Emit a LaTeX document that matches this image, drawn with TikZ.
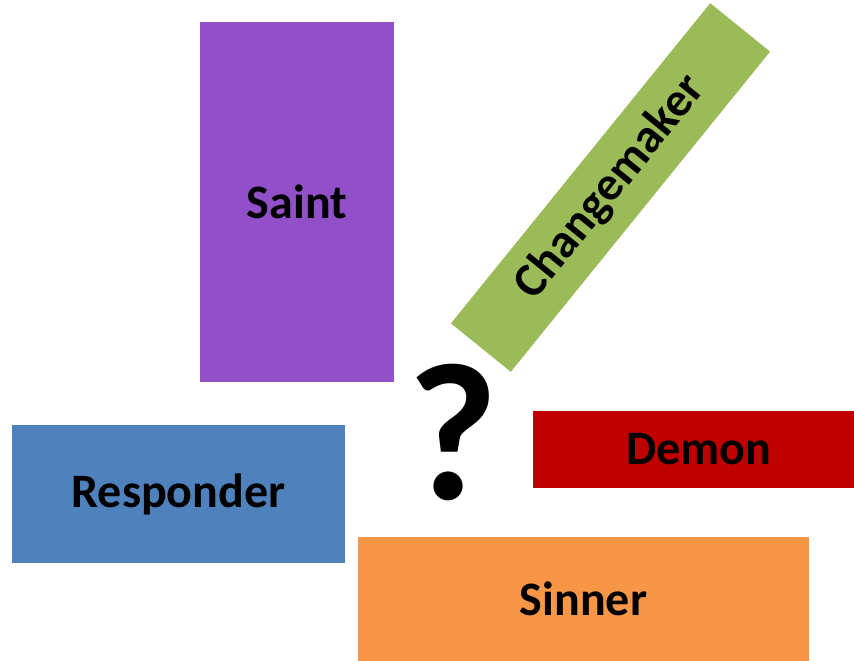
\documentclass[tikz,border=0pt]{standalone}
\usepackage{fontspec}
\setmainfont{Carlito}
\usepackage{tikz}
\usetikzlibrary{positioning}
\definecolor{saintpurple}{HTML}{914FC8}
\definecolor{changegreen}{HTML}{9BBB59}
\definecolor{responderblue}{HTML}{4F81BD}
\definecolor{demonred}{HTML}{C00000}
\definecolor{sinnerorange}{HTML}{F79646}
\tikzset{
   card/.style = {%
    shape=rectangle,
    inner sep=0pt,
    draw=none,
    align=center,
    text=black,
    font=\fontsize{48}{48}\selectfont\bfseries},
   mark q/.style = {%
    inner sep=0pt,
    text=black,
    font=\fontsize{196}{196}\selectfont\bfseries},
    }

\begin{document}
\begin{tikzpicture}[x=1pt,y=-1pt]
    \useasboundingbox (0,0) rectangle (854,661);
    \node[card, fill=saintpurple, minimum width=194pt, minimum height=360pt] (saint) at (297,202) {Saint};
    \node[card, fill=changegreen, minimum width=412pt, minimum height=77pt, rotate=51] (changemaker) at (610.5,187.5) {Changemaker};
    \node[card, fill=responderblue, minimum width=333pt, minimum height=138pt] (responder) at (178.5,494) {Responder};
    \node[card, fill=demonred, minimum width=321pt, minimum height=77pt] (demon) at (693.5,449.5) {\hspace*{11pt}Demon};
    \node[card, fill=sinnerorange, minimum width=451pt, minimum height=124pt] (sinner) at (583.5,599) {Sinner};
    \node[mark q] (question) at (453,433) {?};
\end{tikzpicture}
\end{document}
